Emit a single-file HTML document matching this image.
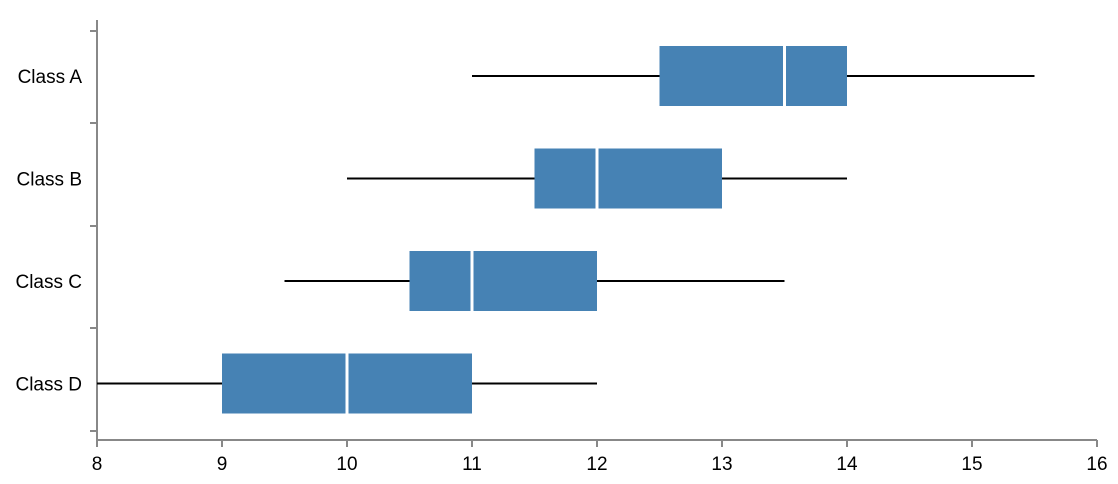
<!DOCTYPE html>
<html><head><meta charset="utf-8"><style>
html,body{margin:0;padding:0;background:#fff;}
svg{display:block;font-family:"Liberation Sans",Arial,sans-serif;}
</style></head><body>
<svg id="chart" width="1118" height="484" xmlns="http://www.w3.org/2000/svg"></svg>
<script>
const categories = ["Class A","Class B","Class C","Class D"];
const whiskerLow = [11, 10, 9.5, 8];
const q1Values = [12.5, 11.5, 10.5, 9];
const medians = [13.5, 12, 11, 10];
const q3Values = [14, 13, 12, 11];
const whiskerHigh = [15.5, 14, 13.5, 12];
const xTicks = [8,9,10,11,12,13,14,15,16];

const NS = "http://www.w3.org/2000/svg";
const svg = document.getElementById("chart");
const x = v => 97 + (v - 8) * 125;
const yCenter = i => 76 + i * 102.5;
function mk(tag, attrs, parent) {
  const e = document.createElementNS(NS, tag);
  for (const k in attrs) e.setAttribute(k, attrs[k]);
  (parent || svg).appendChild(e);
  return e;
}
const yAxis = mk("g", {});


mk("line", {x1:97, y1:20, x2:97, y2:440, stroke:"#888", "stroke-width":2}, yAxis);
[31,123,226,328,431].forEach(t => mk("line", {x1:90, y1:t, x2:97, y2:t, stroke:"#888", "stroke-width":2}, yAxis));
categories.forEach((c, i) => {
  const t = mk("text", {x:82, y:yCenter(i)+7, "text-anchor":"end", "font-size":19, fill:"#000"}, yAxis);
  t.textContent = c;
  
  
});
const xAxis = mk("g", {});


mk("line", {x1:97, y1:440, x2:1097, y2:440, stroke:"#888", "stroke-width":2}, xAxis);
xTicks.forEach(v => {
  mk("line", {x1:x(v), y1:440, x2:x(v), y2:447, stroke:"#888", "stroke-width":2}, xAxis);
  const t = mk("text", {x:x(v), y:470, "text-anchor":"middle", "font-size":19, fill:"#000"}, xAxis);
  t.textContent = v;
  
  
});
categories.forEach((c, i) => {
  const g = mk("g", {});
  
  
  const cy = yCenter(i);
  const w = mk("line", {x1:x(whiskerLow[i]), y1:cy, x2:x(whiskerHigh[i]), y2:cy, stroke:"#000", "stroke-width":2}, g);
  
  
  const r = mk("rect", {x:x(q1Values[i]), y:cy-30, width:x(q3Values[i])-x(q1Values[i]), height:60, fill:"#4682b4"}, g);
  
  
  const m = mk("line", {x1:x(medians[i]), y1:cy-30, x2:x(medians[i]), y2:cy+30, stroke:"#fff", "stroke-width":3}, g);
  
  
});
</script>
</body></html>
